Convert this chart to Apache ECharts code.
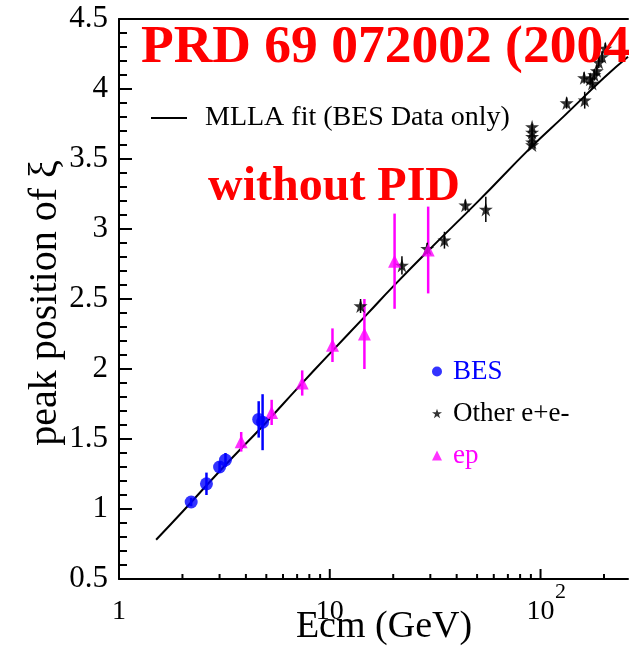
<!DOCTYPE html>
<html>
<head>
<meta charset="utf-8">
<script src="https://cdn.jsdelivr.net/npm/echarts@6/dist/echarts.min.js"></script>
<style>
html,body{margin:0;padding:0;background:#fff;}
#chart{width:631px;height:650px;}
</style>
</head>
<body>
<div id="chart"></div>
<script>
// BES measurements: centre-of-mass energy (GeV), peak position of xi, error
const besE   = [2.2, 2.6, 3.0, 3.2, 4.6, 4.8];
const besXi  = [1.05, 1.18, 1.30, 1.35, 1.64, 1.62];
const besErr = [0.03, 0.08, 0.04, 0.05, 0.13, 0.20];

// ep (Breit frame) measurements
const epE   = [3.8, 5.3, 7.4, 10.3, 14.6, 20.3, 29.3];
const epXi  = [1.48, 1.69, 1.90, 2.17, 2.25, 2.77, 2.85];
const epErr = [0.07, 0.09, 0.09, 0.12, 0.25, 0.34, 0.31];

// other e+e- experiments
const eeE   = [14, 22, 29, 35, 44, 55, 91.2, 91.2, 91.2, 91.2, 91.2, 133, 161, 162, 172, 176, 180, 185, 189, 196, 203];
const eeXi  = [2.45, 2.74, 2.86, 2.92, 3.17, 3.14, 3.60, 3.62, 3.66, 3.69, 3.73, 3.90, 4.08, 3.92, 4.07, 4.04, 4.10, 4.13, 4.19, 4.23, 4.29];
const eeErr = [0.05, 0.065, 0.04, 0.06, 0.04, 0.09, 0.02, 0.02, 0.02, 0.02, 0.02, 0.04, 0.04, 0.06, 0.04, 0.04, 0.04, 0.04, 0.04, 0.04, 0.04];

// MLLA fit curve (BES data only)
const fitE  = [1.5, 2, 3, 5, 7, 10, 15, 20, 30, 50, 91, 130, 200, 260];
const fitXi = [0.78, 0.98, 1.27, 1.62, 1.86, 2.11, 2.39, 2.59, 2.86, 3.19, 3.59, 3.81, 4.08, 4.23];

// tick positions: energy axis (decades and sub-decades) and xi axis
const xMajorTicks = [10, 100];
const xMinorTicks = [2, 3, 4, 5, 6, 7, 8, 9, 20, 30, 40, 50, 60, 70, 80, 90, 200];
const yMajorTicks = [1, 1.5, 2, 2.5, 3, 3.5, 4];
const yMinorTicks = [0.6, 0.7, 0.8, 0.9, 1.1, 1.2, 1.3, 1.4, 1.6, 1.7, 1.8, 1.9, 2.1, 2.2, 2.3, 2.4,
                     2.6, 2.7, 2.8, 2.9, 3.1, 3.2, 3.3, 3.4, 3.6, 3.7, 3.8, 3.9, 4.1, 4.2, 4.3, 4.4];
const yMin = 0.5, yMax = 4.5, yStep = 0.5;
const xMin = 1, xMax = 260;

const SERIF = 'Liberation Serif';
const BLUE = '#0000ff', MAGENTA = '#ff00ff', RED = '#ff0000', BLACK = '#000000';
const STAR = 'path://M50,0 L61.2,34.5 L97.6,34.5 L68.2,55.9 L79.4,90.5 L50,69.1 L20.6,90.5 L31.8,55.9 L2.4,34.5 L38.8,34.5 Z';
const DASH = 'path://M0,0 L36,0 L36,2 L0,2 Z';

const zip3 = (a, b, c) => a.map((v, i) => [v, b[i], c[i]]);
const zip2 = (a, b) => a.map((v, i) => [v, b[i]]);

function errorBars(color, width) {
  return function (params, api) {
    const x = api.value(0), y = api.value(1), e = api.value(2);
    const lo = api.coord([x, y - e]);
    const hi = api.coord([x, y + e]);
    return {
      type: 'line',
      shape: { x1: lo[0], y1: lo[1], x2: hi[0], y2: hi[1] },
      style: { stroke: color, lineWidth: width }
    };
  };
}

function isPow10(v) {
  const l = Math.log10(v);
  return Math.abs(l - Math.round(l)) < 1e-6;
}

const chart = echarts.init(document.getElementById('chart'), null, { renderer: 'canvas' });

const textGraphics = [
  {
    type: 'text', left: 141, top: 21, z: 100, silent: true,
    style: { text: 'PRD 69 072002 (2004)', font: 'bold 53.5px "Liberation Serif"', fill: RED }
  },
  {
    type: 'text', left: 208, top: 164, z: 100, silent: true,
    style: { text: 'without PID', font: 'bold 48px "Liberation Serif"', fill: RED }
  },
  {
    type: 'text', x: 384, y: 627, silent: true,
    style: { text: 'Ecm (GeV)', font: '38px "Liberation Serif"', fill: BLACK, align: 'center', verticalAlign: 'middle' }
  },
  {
    type: 'text', x: 45, y: 303, rotation: Math.PI / 2, silent: true,
    style: { text: 'peak position of ξ', font: '40px "Liberation Serif"', fill: BLACK, align: 'center', verticalAlign: 'middle' }
  }
];

chart.setOption({
  animation: false,
  backgroundColor: '#fff',
  grid: { left: 119, right: 0, top: 19, bottom: 71 },
  xAxis: [
    {
      type: 'log', logBase: 10, min: xMin, max: xMax,
      axisLine: { show: true, lineStyle: { color: BLACK, width: 2 } },
      axisTick: { show: false },
      splitLine: { show: false },
      axisLabel: {
        show: true,
        margin: 8,
        // two-line labels: an exponent row above the mantissa row
        formatter: function (v) {
          if (!isPow10(v)) return '';
          const p = Math.round(Math.log10(v));
          if (p === 0) return '{sp| }\n{n|1}';
          if (p === 1) return '{sp| }\n{n|10}';
          return '{sup|' + p + '}\n{n|10}';
        },
        rich: {
          sp: { fontFamily: SERIF, fontSize: 22, lineHeight: 11 },
          n: { fontFamily: SERIF, fontSize: 28, lineHeight: 28, color: BLACK },
          sup: { fontFamily: SERIF, fontSize: 22, lineHeight: 11, color: BLACK, padding: [0, 0, 0, 40] }
        }
      }
    },
    {
      type: 'log', logBase: 10, min: xMin, max: xMax, position: 'top',
      axisLine: { show: true, lineStyle: { color: BLACK, width: 2 } },
      axisTick: { show: false }, axisLabel: { show: false }, splitLine: { show: false }
    }
  ],
  yAxis: {
    type: 'value', min: yMin, max: yMax, interval: yStep,
    axisLine: { show: true, lineStyle: { color: BLACK, width: 2 } },
    axisTick: { show: true, inside: true, length: 13, lineStyle: { color: BLACK, width: 2 } },
    minorTick: { show: true, splitNumber: 5, length: 8, lineStyle: { color: BLACK, width: 2 } },
    splitLine: { show: false },
    axisLabel: {
      margin: 11, fontFamily: SERIF, fontSize: 31, color: BLACK,
      formatter: v => String(v)
    }
  },
  legend: [
    {
      data: [{ name: 'MLLA fit (BES Data only)', icon: DASH }],
      left: 146, top: 99,
      itemWidth: 36, itemHeight: 2,
      selectedMode: false,
      textStyle: { fontFamily: SERIF, fontSize: 28, color: BLACK, padding: [0, 0, 0, 13] }
    },
    {
      data: [
        { name: 'BES', icon: 'circle', textStyle: { color: BLUE } },
        { name: 'Other e+e-', icon: STAR, textStyle: { color: BLACK } },
        { name: 'ep', icon: 'triangle', textStyle: { color: MAGENTA } }
      ],
      orient: 'vertical',
      left: 427, top: 353,
      itemWidth: 10, itemHeight: 10, itemGap: 15,
      selectedMode: false,
      textStyle: { fontFamily: SERIF, fontSize: 27, padding: [0, 0, 0, 6] }
    }
  ],
  graphic: textGraphics,
  series: [
    {
      name: 'MLLA fit (BES Data only)',
      type: 'line',
      data: zip2(fitE, fitXi),
      smooth: true,
      symbol: 'none',
      lineStyle: { color: BLACK, width: 2 },
      itemStyle: { color: BLACK },
      z: 2
    },
    {
      type: 'custom', name: 'ep errors', silent: true,
      data: zip3(epE, epXi, epErr), renderItem: errorBars(MAGENTA, 2.5), z: 3
    },
    {
      type: 'custom', name: 'BES errors', silent: true,
      data: zip3(besE, besXi, besErr), renderItem: errorBars(BLUE, 2.5), z: 3
    },
    {
      type: 'custom', name: 'e+e- errors', silent: true,
      data: zip3(eeE, eeXi, eeErr), renderItem: errorBars(BLACK, 1.5), z: 3
    },
    {
      name: 'Other e+e-', type: 'scatter',
      data: zip2(eeE, eeXi), symbol: STAR, symbolSize: 14,
      itemStyle: { color: BLACK }, z: 4
    },
    {
      name: 'ep', type: 'scatter',
      data: zip2(epE, epXi), symbol: 'triangle', symbolSize: 13,
      itemStyle: { color: MAGENTA }, z: 4
    },
    {
      name: 'BES', type: 'scatter',
      data: zip2(besE, besXi), symbol: 'circle', symbolSize: 13,
      itemStyle: { color: BLUE }, z: 5
    }
  ]
});

// inward frame ticks, placed through the grid's own coordinate conversion
function tickLine(x, y, dx, dy) {
  const p = chart.convertToPixel({ gridIndex: 0 }, [x, y]);
  return {
    type: 'line', silent: true, z: 200,
    shape: { x1: p[0], y1: p[1], x2: p[0] + dx, y2: p[1] + dy },
    style: { stroke: BLACK, lineWidth: 2 }
  };
}
const tickGraphics = []
  .concat(xMajorTicks.map(v => tickLine(v, yMin, 0, -10)))
  .concat(xMinorTicks.map(v => tickLine(v, yMin, 0, -5)))
  .concat(yMajorTicks.map(v => tickLine(xMin, v, 13, 0)))
  .concat(yMinorTicks.map(v => tickLine(xMin, v, 8, 0)));

chart.setOption({ graphic: textGraphics.concat(tickGraphics) }, { replaceMerge: ['graphic'] });
</script>
</body>
</html>
